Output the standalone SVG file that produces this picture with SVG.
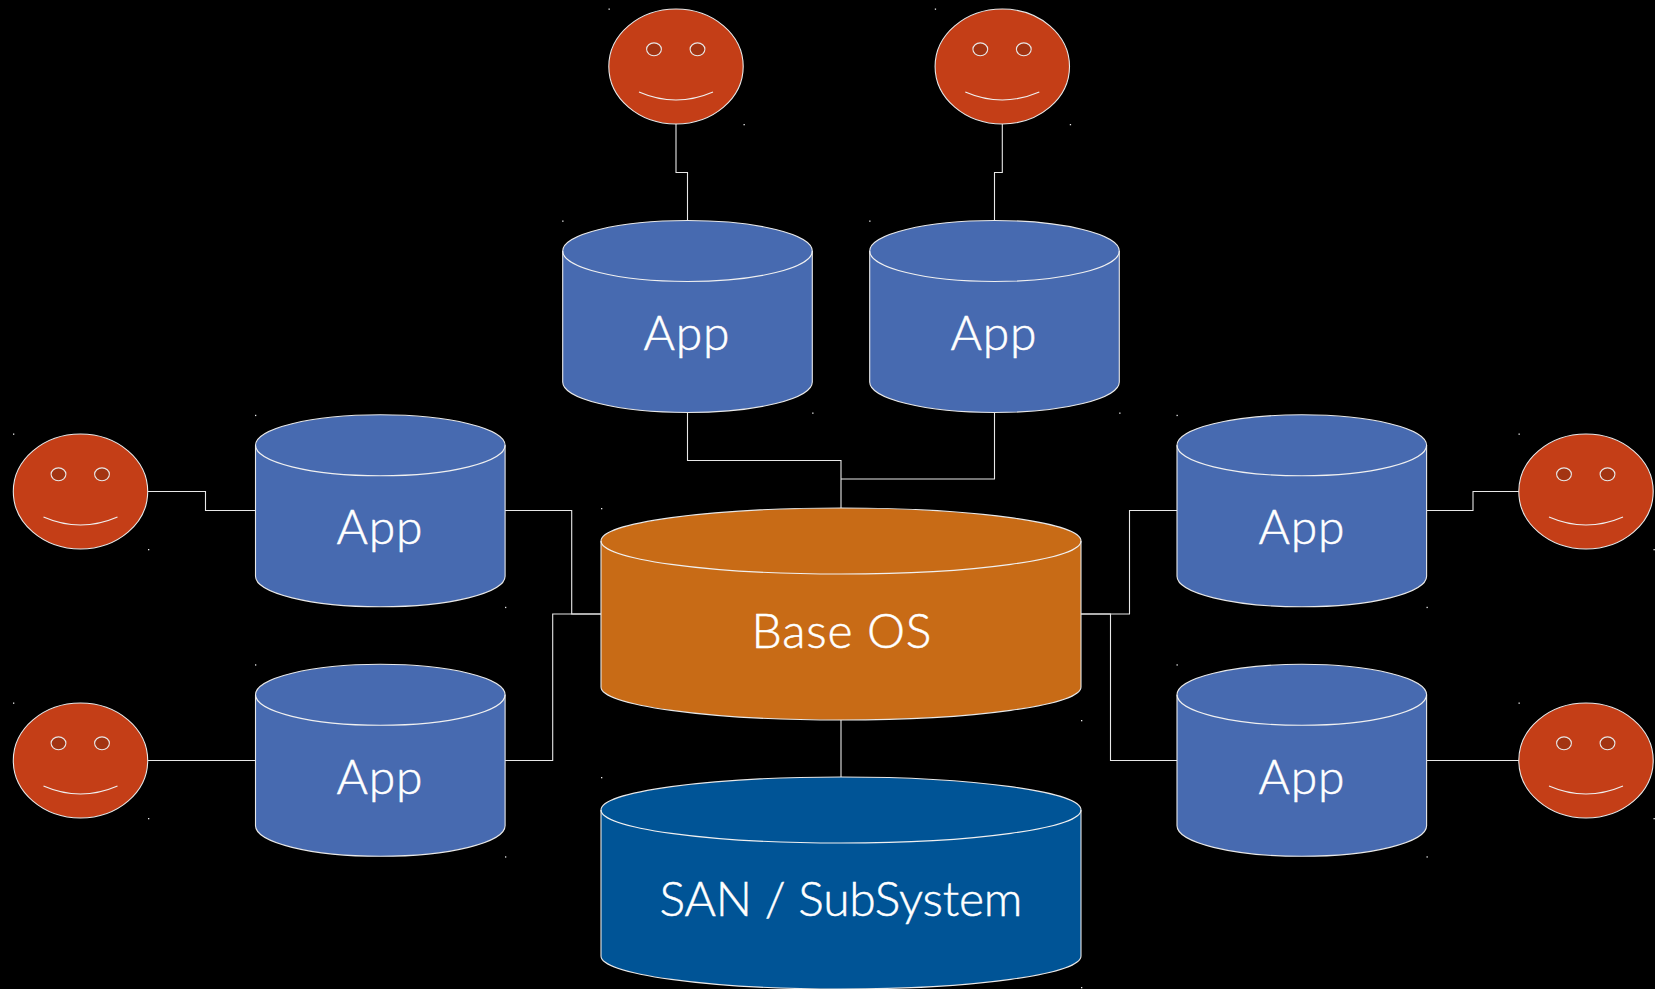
<svg xmlns="http://www.w3.org/2000/svg" xmlns:xlink="http://www.w3.org/1999/xlink" width="1655" height="989" viewBox="0 0 1655 989">
<style>
.ln{fill:none;stroke:#e8e8e8;stroke-width:1.1}
.can{stroke:#e8e8e8;stroke-width:1.1}
.app{fill:#476ab0}
.os{fill:#c86b16}
.san{fill:#005496}
.rim{fill:none;stroke:#f0f0f0;stroke-width:1.1}
.head{fill:#c43e17;stroke:#e8e8e8;stroke-width:1.1}
.eye{fill:#a33412;stroke:#e8e8e8;stroke-width:1.1}
.t{font-family:"Lato","Liberation Sans",sans-serif;font-weight:300;font-size:48px;fill:#fff;stroke:#fff;stroke-width:0.5;text-anchor:middle}
.dot{fill:#e8e8e8}
</style>
<defs>
<g id="face">
<ellipse class="head" cx="0" cy="0" rx="67.2" ry="57.5"/>
<ellipse class="eye" cx="-22" cy="-17.2" rx="7.4" ry="6.4"/>
<ellipse class="eye" cx="21.5" cy="-17.2" rx="7.4" ry="6.4"/>
<path class="rim" d="M-37 25.5Q0 41.5 37 25.5"/>
<rect class="dot" x="-67.5" y="-58" width="1.3" height="1.3"/>
<rect class="dot" x="67.5" y="57.5" width="1.3" height="1.3"/>
</g>
<g id="appcan">
<path class="app can" d="M0 30.5A124.8 30.5 0 0 1 249.6 30.5V161.5A124.8 30.5 0 0 1 0 161.5Z"/>
<path class="rim" d="M0 30.5A124.8 30.5 0 0 0 249.6 30.5"/>
<rect class="dot" x="-0.5" y="0" width="1.3" height="1.3"/>
<rect class="dot" x="249.5" y="192" width="1.3" height="1.3"/>
</g>
</defs>
<rect width="1655" height="989" fill="#000"/>
<g id="connectors">
<path class="ln" d="M676 124V172.5H687.5V220.5"/>
<path class="ln" d="M1002.3 124V172.5H994.5V220.5"/>
<path class="ln" d="M687.5 412V460.5H841V508"/>
<path class="ln" d="M994.5 412V479H841"/>
<path class="ln" d="M147.5 491.5H205.5V510.5H255.5"/>
<path class="ln" d="M147.5 760.5H255.5"/>
<path class="ln" d="M505 510.5H571.7V614H601"/>
<path class="ln" d="M505 760.5H552.7V614H601"/>
<path class="ln" d="M1081 614H1129.5V510.5H1177"/>
<path class="ln" d="M1081 614H1110.5V760.5H1177"/>
<path class="ln" d="M1427 510.5H1473V491.5H1519"/>
<path class="ln" d="M1427 760.5H1519"/>
<path class="ln" d="M841 719.5V777"/>
</g>
<g id="face-top-left"><use xlink:href="#face" href="#face" x="676" y="66.5"/></g>
<g id="face-top-right"><use xlink:href="#face" href="#face" x="1002.3" y="66.5"/></g>
<g id="face-left-upper"><use xlink:href="#face" href="#face" x="80.5" y="491.5"/></g>
<g id="face-left-lower"><use xlink:href="#face" href="#face" x="80.5" y="760.5"/></g>
<g id="face-right-upper"><use xlink:href="#face" href="#face" x="1586" y="491.5"/></g>
<g id="face-right-lower"><use xlink:href="#face" href="#face" x="1586" y="760.5"/></g>
<g id="app-top-left"><use xlink:href="#appcan" href="#appcan" x="562.7" y="220.5"/><text class="t" x="686.5" y="350" textLength="86">App</text></g>
<g id="app-top-right"><use xlink:href="#appcan" href="#appcan" x="869.7" y="220.5"/><text class="t" x="993.5" y="350" textLength="86">App</text></g>
<g id="app-left-upper"><use xlink:href="#appcan" href="#appcan" x="255.5" y="414.8"/><text class="t" x="379.5" y="544" textLength="86">App</text></g>
<g id="app-left-lower"><use xlink:href="#appcan" href="#appcan" x="255.5" y="664.3"/><text class="t" x="379.5" y="794" textLength="86">App</text></g>
<g id="app-right-upper"><use xlink:href="#appcan" href="#appcan" x="1177" y="414.8"/><text class="t" x="1301.5" y="544" textLength="86">App</text></g>
<g id="app-right-lower"><use xlink:href="#appcan" href="#appcan" x="1177" y="664.3"/><text class="t" x="1301.5" y="794" textLength="86">App</text></g>
<g id="base-os">
<path class="os can" d="M601 541A240 33 0 0 1 1081 541V687A240 33 0 0 1 601 687Z"/>
<path class="rim" d="M601 541A240 33 0 0 0 1081 541"/>
<rect class="dot" x="601" y="508" width="1.3" height="1.3"/>
<rect class="dot" x="1081" y="720" width="1.3" height="1.3"/>
<text class="t" x="841.5" y="648" textLength="180">Base OS</text>
</g>
<g id="san">
<path class="san can" d="M601 810A240 33 0 0 1 1081 810V956A240 33 0 0 1 601 956Z"/>
<path class="rim" d="M601 810A240 33 0 0 0 1081 810"/>
<rect class="dot" x="601" y="777" width="1.3" height="1.3"/>
<rect class="dot" x="1081" y="987" width="1.3" height="1.3"/>
<text class="t" x="841" y="916" textLength="363">SAN / SubSystem</text>
</g>
</svg>
